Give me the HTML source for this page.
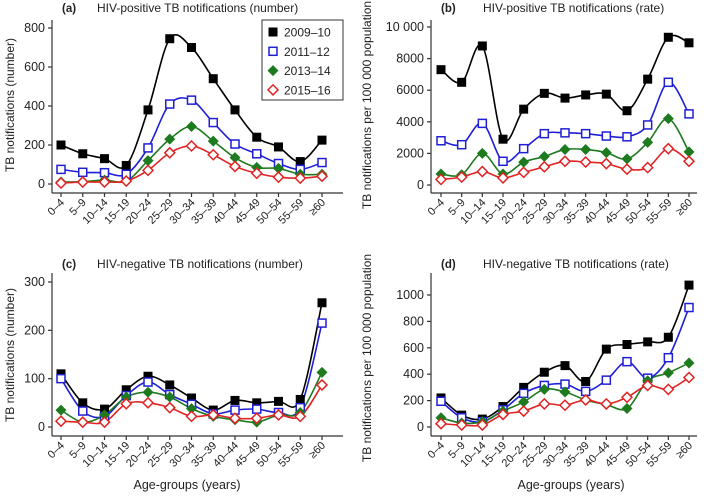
<!DOCTYPE html>
<html><head><meta charset="utf-8"><style>
html,body{margin:0;padding:0;background:#fff;}
svg{display:block;font-family:"Liberation Sans",Arial,sans-serif;}
</style></head><body>
<svg id="chart" width="709" height="496" viewBox="0 0 709 496" xmlns="http://www.w3.org/2000/svg"></svg>
<script>
const categories = ["0–4","5–9","10–14","15–19","20–24","25–29","30–34","35–39","40–44","45–49","50–54","55–59","≥60"];
const seriesNames = ["2009–10","2011–12","2013–14","2015–16"];
// panel a
const aBlack = [200,155,130,95,380,745,700,540,380,240,190,115,225];
const aBlue  = [75,60,58,50,185,410,430,315,205,155,105,75,110];
const aGreen = [10,12,20,15,120,230,295,220,135,85,80,50,50];
const aRed   = [5,10,10,15,70,160,195,150,90,55,35,30,40];
const aTicks = [0,200,400,600,800];
// panel b
const bBlack = [7300,6500,8800,2900,4800,5800,5500,5700,5750,4700,6700,9350,9000];
const bBlue  = [2800,2550,3900,1500,2300,3250,3300,3250,3100,3050,3800,6500,4500];
const bGreen = [700,650,2000,700,1450,1800,2250,2250,2050,1650,2700,4200,2100];
const bRed   = [350,500,850,450,800,1150,1500,1450,1350,1000,1100,2300,1500];
const bTicks = [0,2000,4000,6000,8000,10000];
const bTickLabels = ["0","2000","4000","6000","8000","10 000"];
// panel c
const cBlack = [110,50,37,77,105,87,60,35,55,50,53,57,257];
const cBlue  = [100,33,22,65,93,67,47,27,35,37,30,40,215];
const cGreen = [35,10,25,62,72,62,38,22,15,10,25,30,113];
const cRed   = [12,10,10,48,50,40,22,25,18,18,25,22,87];
const cTicks = [0,100,200,300];
// panel d
const dBlack = [220,90,60,155,300,415,465,345,590,625,645,680,1075];
const dBlue  = [195,70,40,130,255,315,325,270,355,495,370,525,905];
const dGreen = [70,30,40,120,190,285,265,205,170,140,350,410,485];
const dRed   = [25,15,15,95,120,175,165,205,175,225,315,285,375];
const dTicks = [0,200,400,600,800,1000];

const NS="http://www.w3.org/2000/svg";
const svg=document.getElementById('chart');
function mk(tag,attrs,parent){const e=document.createElementNS(NS,tag);for(const k in attrs)e.setAttribute(k,attrs[k]);(parent||svg).appendChild(e);return e;}
const colors=["#000000","#1f1fd6","#1e7a1e","#e02424"];

function spline(pts){
  let d="M"+pts[0][0]+","+pts[0][1];
  for(let i=0;i<pts.length-1;i++){
    const p0=pts[Math.max(i-1,0)],p1=pts[i],p2=pts[i+1],p3=pts[Math.min(i+2,pts.length-1)];
    const c1=[p1[0]+(p2[0]-p0[0])/6,p1[1]+(p2[1]-p0[1])/6];
    const c2=[p2[0]-(p3[0]-p1[0])/6,p2[1]-(p3[1]-p1[1])/6];
    d+=" C"+c1[0]+","+c1[1]+" "+c2[0]+","+c2[1]+" "+p2[0]+","+p2[1];
  }
  return d;
}
function marker(g,type,x,y,col){
  let m;
  if(type===0) m=mk('rect',{x:x-4.5,y:y-4.5,width:9,height:9,fill:col},g);
  else if(type===1) m=mk('rect',{x:x-4,y:y-4,width:8,height:8,fill:'#fff',stroke:col,'stroke-width':1.5},g);
  else if(type===2) m=mk('polygon',{points:`${x},${y-5.5} ${x+5.5},${y} ${x},${y+5.5} ${x-5.5},${y}`,fill:col},g);
  else m=mk('polygon',{points:`${x},${y-5} ${x+5},${y} ${x},${y+5} ${x-5},${y}`,fill:'#fff',stroke:col,'stroke-width':1.5},g);
  return m;
}

function panel(o){
  const g=mk('g',{});
  
  
  const xS=i=>o.x0+i*(o.x1-o.x0)/(categories.length-1);
  const yS=v=>o.yb-(v/o.vmax)*(o.yb-o.yt);
  const ya=mk('line',{x1:o.ax,y1:o.axTop,x2:o.ax,y2:o.axY,stroke:'#333','stroke-width':1.2},g);
  
  const xa=mk('line',{x1:o.ax,y1:o.axY,x2:o.axEnd,y2:o.axY,stroke:'#333','stroke-width':1.2},g);
  
  o.ticks.forEach((t,i)=>{
    const y=yS(t);
    mk('line',{x1:o.ax-4,y1:y,x2:o.ax,y2:y,stroke:'#333','stroke-width':1.2},g);
    const tl=mk('text',{x:o.ax-7,y:y+4,'text-anchor':'end','font-size':12.5,fill:'#222'},g);
    
    tl.textContent=o.tickLabels?o.tickLabels[i]:String(t);
  });
  categories.forEach((c,i)=>{
    const x=xS(i);
    mk('line',{x1:x,y1:o.axY,x2:x,y2:o.axY+4,stroke:'#333','stroke-width':1.2},g);
    const tl=mk('text',{x:x+4,y:o.axY+10,'text-anchor':'end','font-size':11,fill:'#222',transform:`rotate(-45 ${x+4} ${o.axY+10})`},g);
    
    tl.textContent=c;
  });
  o.series.forEach((arr,si)=>{
    const pts=arr.map((v,i)=>[xS(i),yS(v)]);
    const p=mk('path',{d:spline(pts),fill:'none',stroke:colors[si],'stroke-width':1.6},g);
    
    
  });
  o.series.forEach((arr,si)=>{
    arr.forEach((v,i)=>{
      const m=marker(g,si,xS(i),yS(v),colors[si]);
      
      
    });
  });
  const tt=mk('text',{x:o.tx,y:o.ty,'font-size':11.5,'font-weight':'bold',fill:'#222'},g);
  
  tt.textContent='('+o.id+')';
  const t2=mk('text',{x:o.tx2,y:o.ty,'font-size':12,fill:'#222'},g);
  
  t2.textContent=o.title;
  const yl=mk('text',{x:o.ylx,y:o.yly,'text-anchor':'middle','font-size':12,fill:'#222',transform:`rotate(-90 ${o.ylx} ${o.yly})`},g);
  
  yl.textContent=o.ylabel;
  if(o.xlabel){
    const xl=mk('text',{x:o.xlx,y:489,'text-anchor':'middle','font-size':12.5,fill:'#222'},g);
    
    xl.textContent=o.xlabel;
  }
}

panel({id:'a',x0:61,x1:322,yb:184,yt:28,vmax:800,ax:52,axTop:20,axY:193,axEnd:343,ticks:aTicks,
  series:[aBlack,aBlue,aGreen,aRed],tx:62,tx2:97,ty:12,title:'HIV-positive TB notifications (number)',
  ylx:14,yly:105,ylabel:'TB notifications (number)'});
panel({id:'b',x0:441,x1:689,yb:185,yt:27,vmax:10000,ax:431,axTop:20,axY:193,axEnd:697,ticks:bTicks,tickLabels:bTickLabels,
  series:[bBlack,bBlue,bGreen,bRed],tx:441,tx2:483,ty:12,title:'HIV-positive TB notifications (rate)',
  ylx:371,yly:105,ylabel:'TB notifications per 100 000 population'});
panel({id:'c',x0:61,x1:322,yb:427,yt:282,vmax:300,ax:52,axTop:273,axY:436,axEnd:343,ticks:cTicks,
  series:[cBlack,cBlue,cGreen,cRed],tx:62,tx2:97,ty:268,title:'HIV-negative TB notifications (number)',
  ylx:14,yly:355,ylabel:'TB notifications (number)',xlabel:'Age-groups (years)',xlx:187});
panel({id:'d',x0:441,x1:689,yb:427,yt:295,vmax:1000,ax:431,axTop:273,axY:436,axEnd:697,ticks:dTicks,
  series:[dBlack,dBlue,dGreen,dRed],tx:441,tx2:483,ty:268,title:'HIV-negative TB notifications (rate)',
  ylx:371,yly:358,ylabel:'TB notifications per 100 000 population',xlabel:'Age-groups (years)',xlx:571});

const lg=mk('g',{});


mk('rect',{x:262,y:20,width:81,height:80,fill:'#fff',stroke:'#333','stroke-width':1},lg);
seriesNames.forEach((n,i)=>{
  const y=32+i*19.3;
  const e=mk('g',{},lg);
  
  
  marker(e,i,273,y,colors[i]);
  const t=mk('text',{x:284,y:y+4.5,'font-size':12,fill:'#222'},e);
  t.textContent=n;
});
</script>
</body></html>
